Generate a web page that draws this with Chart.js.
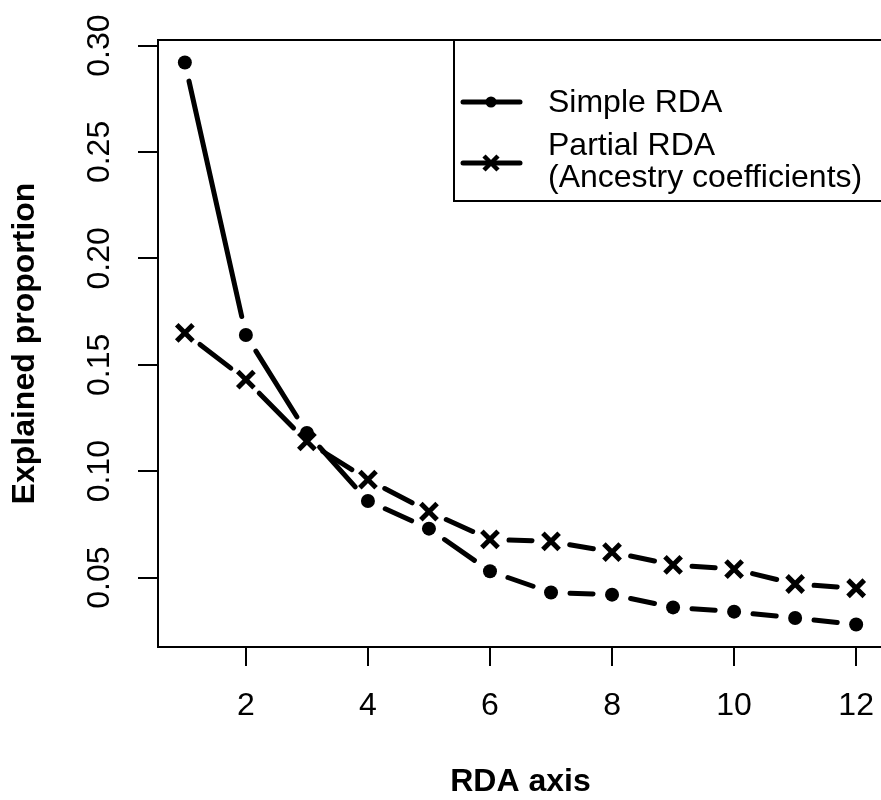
<!DOCTYPE html>
<html>
<head>
<meta charset="utf-8">
<script src="https://cdn.jsdelivr.net/npm/chart.js@4.4.1/dist/chart.umd.min.js"></script>
<style>
  html, body { margin: 0; padding: 0; background: #ffffff; overflow: hidden; width: 881px; height: 800px; }
  #wrap { position: relative; width: 881px; height: 800px; overflow: hidden; }
  #c { position: absolute; left: 0; top: 0; }
</style>
</head>
<body>
<div id="wrap"><canvas id="c" width="890" height="800"></canvas></div>
<script>
// ---- data ----
const rdaAxis = [1, 2, 3, 4, 5, 6, 7, 8, 9, 10, 11, 12];
const simpleRDA = [0.292, 0.164, 0.118, 0.086, 0.073, 0.053, 0.043, 0.042, 0.036, 0.034, 0.031, 0.028];
const partialRDA = [0.165, 0.143, 0.114, 0.096, 0.081, 0.068, 0.067, 0.062, 0.056, 0.054, 0.047, 0.045];
const xTickValues = [2, 4, 6, 8, 10, 12];
const yTickValues = [0.05, 0.10, 0.15, 0.20, 0.25, 0.30];
const simpleLabel = 'Simple RDA';
const partialLabel = ['Partial RDA', '(Ancestry coefficients)'];
const xTitle = 'RDA axis';
const yTitle = 'Explained proportion';

const FONT = "'Liberation Sans', Arial, Helvetica, sans-serif";
Chart.defaults.font.family = FONT;
Chart.defaults.color = '#000000';

function toPoints(xs, ys) { return xs.map((x, i) => ({ x: x, y: ys[i] })); }

// R type="b": line segments with gaps around each point
const gapLines = {
  id: 'gapLines',
  beforeDatasetsDraw(chart) {
    const ctx = chart.ctx;
    const gap = 19;
    ctx.save();
    ctx.strokeStyle = '#000000';
    ctx.lineWidth = 5;
    ctx.lineCap = 'round';
    chart.data.datasets.forEach((ds, di) => {
      const pts = chart.getDatasetMeta(di).data;
      for (let i = 0; i < pts.length - 1; i++) {
        const a = pts[i], b = pts[i + 1];
        const dx = b.x - a.x, dy = b.y - a.y;
        const len = Math.hypot(dx, dy);
        if (len <= 2 * gap) continue;
        const ux = dx / len, uy = dy / len;
        ctx.beginPath();
        ctx.moveTo(a.x + ux * gap, a.y + uy * gap);
        ctx.lineTo(b.x - ux * gap, b.y - uy * gap);
        ctx.stroke();
      }
    });
    ctx.restore();
  }
};

// full box + legend in R style
const boxAndLegend = {
  id: 'boxAndLegend',
  afterDraw(chart) {
    const ctx = chart.ctx;
    const a = chart.chartArea;
    ctx.save();
    ctx.strokeStyle = '#000000';
    ctx.lineWidth = 2;
    ctx.strokeRect(a.left, a.top, a.right - a.left, a.bottom - a.top);

    // legend box
    const lx = 454, ly = a.top, lh = 161;
    ctx.strokeRect(lx, ly, a.right - lx, lh);

    // entry 1: simple
    ctx.lineWidth = 5;
    ctx.lineCap = 'round';
    ctx.beginPath(); ctx.moveTo(463, 102); ctx.lineTo(520, 102); ctx.stroke();
    ctx.fillStyle = '#000000';
    ctx.beginPath(); ctx.arc(491, 102, 5.5, 0, Math.PI * 2); ctx.fill();

    // entry 2: partial
    ctx.beginPath(); ctx.moveTo(463, 163); ctx.lineTo(520, 163); ctx.stroke();
    ctx.lineWidth = 4.5;
    ctx.lineCap = 'butt';
    ctx.beginPath();
    ctx.moveTo(484, 156); ctx.lineTo(498, 170);
    ctx.moveTo(484, 170); ctx.lineTo(498, 156);
    ctx.stroke();

    ctx.font = '32px ' + FONT;
    ctx.textBaseline = 'middle';
    ctx.textAlign = 'left';
    const l1 = chart.data.datasets[0].label;
    const l2 = chart.data.datasets[1].label;
    ctx.fillText(l1, 548, 103);
    ctx.fillText(l2[0], 548, 146);
    ctx.fillText(l2[1], 548, 178);
    ctx.restore();
  }
};

new Chart(document.getElementById('c'), {
  type: 'scatter',
  data: {
    datasets: [
      {
        label: simpleLabel,
        data: toPoints(rdaAxis, simpleRDA),
        showLine: false,
        pointStyle: 'circle',
        pointRadius: 7,
        pointBackgroundColor: '#000000',
        pointBorderColor: '#000000',
        pointBorderWidth: 0
      },
      {
        label: partialLabel,
        data: toPoints(rdaAxis, partialRDA),
        showLine: false,
        pointStyle: 'crossRot',
        pointRadius: 11.5,
        pointBackgroundColor: '#000000',
        pointBorderColor: '#000000',
        pointBorderWidth: 5
      }
    ]
  },
  options: {
    responsive: false,
    animation: false,
    events: [],
    layout: { autoPadding: false, padding: { top: 40, right: 7, left: 0, bottom: 0 } },
    plugins: {
      legend: { display: false },
      tooltip: { enabled: false }
    },
    scales: {
      x: {
        type: 'linear',
        min: 0.56,
        max: 12.44,
        afterBuildTicks: s => { s.ticks = xTickValues.map(v => ({ value: v })); },
        afterFit: s => { s.height = 153; s.paddingLeft = 0; s.paddingRight = 0; },
        ticks: {
          font: { size: 32, lineHeight: 1.2 },
          color: '#000000',
          padding: 21,
          maxRotation: 0,
          autoSkip: false,
          callback: v => String(v)
        },
        grid: { drawOnChartArea: false, drawTicks: true, tickLength: 19, color: '#000000', lineWidth: 2 },
        border: { display: true, color: '#000000', width: 2 },
        title: {
          display: true,
          text: xTitle,
          color: '#000000',
          font: { size: 32, weight: 'bold', lineHeight: 1 },
          padding: { top: 0, bottom: 2 }
        }
      },
      y: {
        type: 'linear',
        min: 0.0174,
        max: 0.3026,
        afterBuildTicks: s => { s.ticks = yTickValues.map(v => ({ value: v })); },
        afterFit: s => { s.width = 158; s.paddingTop = 0; s.paddingBottom = 0; },
        ticks: {
          font: { size: 32, lineHeight: 1.2 },
          color: '#000000',
          padding: 7,
          minRotation: 90,
          maxRotation: 90,
          crossAlign: 'center',
          autoSkip: false,
          callback: v => v.toFixed(2)
        },
        grid: { drawOnChartArea: false, drawTicks: true, tickLength: 20, color: '#000000', lineWidth: 2 },
        border: { display: true, color: '#000000', width: 2 },
        title: {
          display: true,
          text: yTitle,
          color: '#000000',
          font: { size: 32, weight: 'bold', lineHeight: 1 },
          padding: { top: 9, bottom: 0 }
        }
      }
    }
  },
  plugins: [gapLines, boxAndLegend]
});
</script>
</body>
</html>
